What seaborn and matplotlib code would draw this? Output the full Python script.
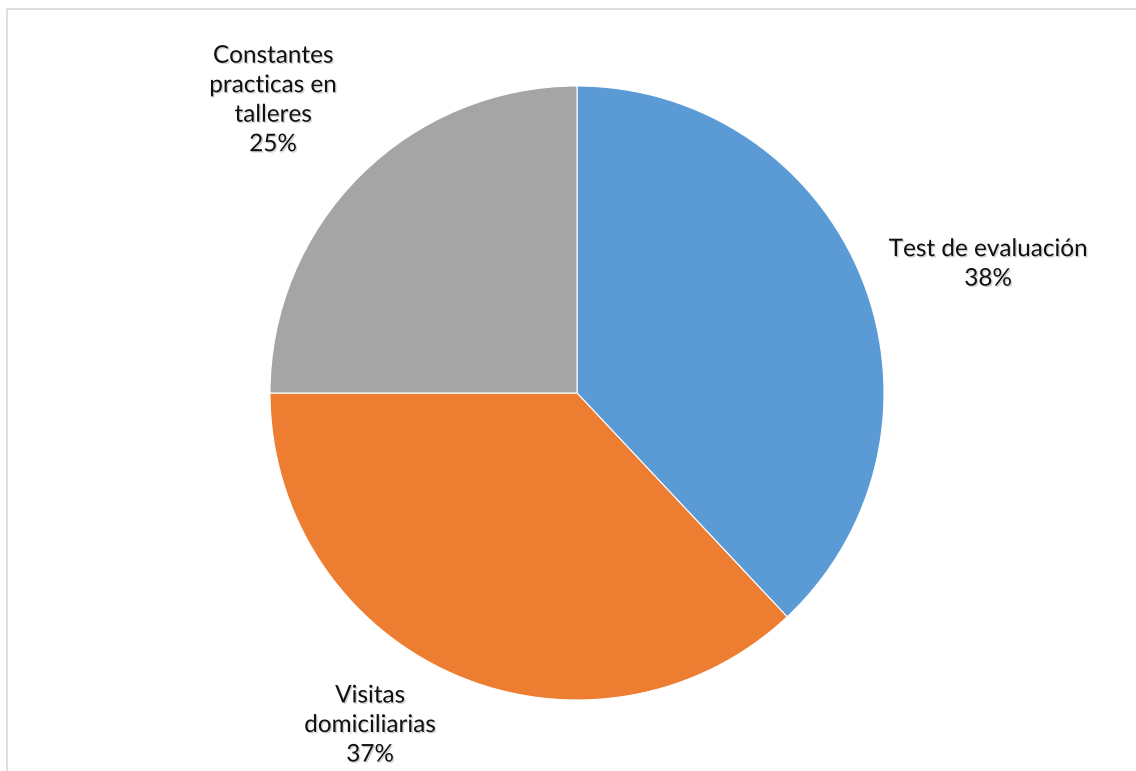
import matplotlib
matplotlib.use("Agg")
import matplotlib.pyplot as plt
import matplotlib.patheffects as pe
import seaborn as sns

# Data
categories = ["Test de evaluación", "Visitas\ndomiciliarias", "Constantes\npracticas en\ntalleres"]
values = [38, 37, 25]
colors = ["#5B9BD5", "#ED7D31", "#A5A5A5"]

sns.set_theme(style="white")
plt.rcParams["font.family"] = ["Lato", "DejaVu Sans"]

fig = plt.figure(figsize=(11.36, 7.71), dpi=100)
ax = fig.add_axes([0, 0, 1, 1])

wedges, _ = ax.pie(values, colors=colors, startangle=90, counterclock=False,
                   radius=1, center=(0, 0),
                   wedgeprops=dict(edgecolor="white", linewidth=0.8))

# axes limits so the pie sits like in the reference (center 577,393, r=307 px)
ax.set_xlim(-577 / 307, (1136 - 577) / 307)
ax.set_ylim((393 - 771) / 307, 393 / 307)
ax.set_aspect("auto")
ax.axis("off")

# label placement (data coords)
label_pos = [(1.339, 0.419), (-0.674, -1.083), (-0.990, 0.953)]
shadow = [pe.withSimplePatchShadow(offset=(1, -1), shadow_rgbFace="gray", alpha=0.35)]
for cat, val, (lx, ly) in zip(categories, values, label_pos):
    ax.text(lx, ly, f"{cat}\n{val}%", ha="center", va="center", fontsize=17.5,
            color="#111111", linespacing=1.5, path_effects=shadow)

# light chart border
fig.add_artist(plt.Rectangle((7 / 1136, -0.01), 1.1, (771 - 9) / 771 + 0.01,
                             transform=fig.transFigure, fill=False,
                             edgecolor="#d9d9d9", linewidth=1.2))

fig.savefig("out.png", dpi=100)
